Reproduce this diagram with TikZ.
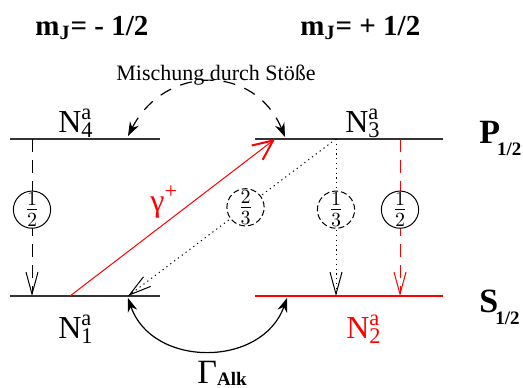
\documentclass[tikz,border=0pt]{standalone}
\usepackage{fontspec}
\setmainfont{Liberation Serif}
\usetikzlibrary{arrows.meta}

% level label N^a_i
\newcommand{\Nlab}[1]{N\rlap{\textsuperscript{a}}\textsubscript{#1}}
% term symbol with low subscript
\newcommand{\Term}[1]{#1\kern-1.5pt\raisebox{-6pt}{\fontsize{9.5}{10}\selectfont\bfseries 1/2}}

\begin{document}
\begin{tikzpicture}[
  x=0.5pt, y=-0.5pt,
  >={Straight Barb[length=11pt,width=6pt]},
  lvl/.style={
    line width=1pt,
    draw=black!80
  },
  redlvl/.style={
    lvl,
    draw=red
  },
  decay/.style={
    ->,
    line width=0.5pt
  },
  halfdash/.style={
    decay,
    dash pattern=on 6.5pt off 4pt
  },
  dots/.style={
    decay,
    dash pattern=on 0.6pt off 1.8pt
  },
  ratiobox/.style={
    circle,
    draw=black,
    solid,
    text=black,
    fill=white,
    line width=0.5pt,
    inner sep=0pt,
    minimum size=17.5pt,
    font=\fontsize{14}{16}\selectfont
  },
  dashedratio/.style={
    ratiobox,
    dash pattern=on 3pt off 1.5pt
  },
  exchange/.style={
    {Stealth[length=7pt,width=5pt]}-{Stealth[length=7pt,width=5pt]},
    line width=0.6pt
  },
  lab/.style={
    anchor=base,
    font=\fontsize{16}{18}\selectfont
  },
  term/.style={
    anchor=base west,
    inner xsep=0pt,
    font=\fontsize{17}{20}\selectfont\bfseries
  },
  mjlabel/.style={
    anchor=base west,
    inner xsep=0pt,
    font=\fontsize{14.5}{16}\selectfont\bfseries
  }
]
\useasboundingbox (0,0) rectangle (523,387);

% Headings
\node[mjlabel] (mminus) at (35,35) {m\textsubscript{J}= - 1/2};
\node[mjlabel] (mplus) at (300,35) {m\textsubscript{J}= + 1/2};

% Level lines
\coordinate (P4w) at (10,139);
\coordinate (P4e) at (160,139);
\coordinate (P3w) at (255,139);
\coordinate (P3e) at (443,139);
\coordinate (S1w) at (10,296);
\coordinate (S1e) at (160,296);
\coordinate (S2w) at (255,296);
\coordinate (S2e) at (443,296);

\draw[lvl] (P4w) -- (P4e);
\draw[lvl] (P3w) -- (P3e);
\draw[lvl] (S1w) -- (S1e);
\draw[redlvl] (S2w) -- (S2e);

% Level names
\node[lab] (n4) at (76,132) {\Nlab{4}};
\node[lab] (n3) at (363,132) {\Nlab{3}};
\node[lab] (n1) at (76,338) {\Nlab{1}};
\node[lab, text=red] (n2) at (364,338) {\Nlab{2}};

\node[term] (pterm) at (479,143) {\Term{P}};
\node[term] (sterm) at (479,312) {\Term{S}};

% Ends of the transitions
\coordinate (p4a) at (32,139);
\coordinate (s1a) at (32,296);
\coordinate (s1b) at (70,296);
\coordinate (p3b) at (275,139);
\coordinate (p3c) at (336,139);
\coordinate (s1c) at (128,296);
\coordinate (s2c) at (336,296);
\coordinate (p3d) at (400,139);
\coordinate (s2d) at (400,296);
\coordinate (p4m) at (128,136);
\coordinate (p3m) at (285,137);
\coordinate (s1g) at (128,298);
\coordinate (s2g) at (287,298);

% Excitation
\draw[decay, draw=red, -{Straight Barb[length=10pt,width=9pt,line width=1pt]}]
  (s1b) -- (p3b);
\node[anchor=base west, inner xsep=0pt, text=red, font=\fontsize{16}{18}\selectfont]
  (gplus) at (150,211) {γ\textsuperscript{+}};

% Decays with branching ratios
\draw[halfdash]
  (p4a) -- node[ratiobox, pos=0.45] (r41) {$\frac{1}{2}$} (s1a);
\draw[dots]
  (p3c) -- node[dashedratio, pos=0.435] (r31) {$\frac{2}{3}$} (s1c);
\draw[dots]
  (p3c) -- node[dashedratio, pos=0.45] (r32) {$\frac{1}{3}$} (s2c);
\draw[halfdash, draw=red]
  (p3d) -- node[ratiobox, pos=0.45] (r32b) {$\frac{1}{2}$} (s2d);

% Mixing by collisions
\node[font=\fontsize{11}{13}\selectfont, anchor=base] (mix) at (216,80)
  {Mischung durch Stöße};
\draw[exchange, dash pattern=on 6pt off 5pt]
  (p4m) .. controls (165,64) and (255,64) .. (p3m);

% Ground state exchange
\draw[exchange]
  (s1g) .. controls (152,368) and (262,368) .. (s2g);
\node[anchor=base west, inner xsep=0pt, inner ysep=0pt] (galk) at (197,383)
  {\fontsize{17}{18}\selectfont Γ\raisebox{-1pt}{\fontsize{9.5}{10}\selectfont\bfseries Alk}};

\end{tikzpicture}
\end{document}
